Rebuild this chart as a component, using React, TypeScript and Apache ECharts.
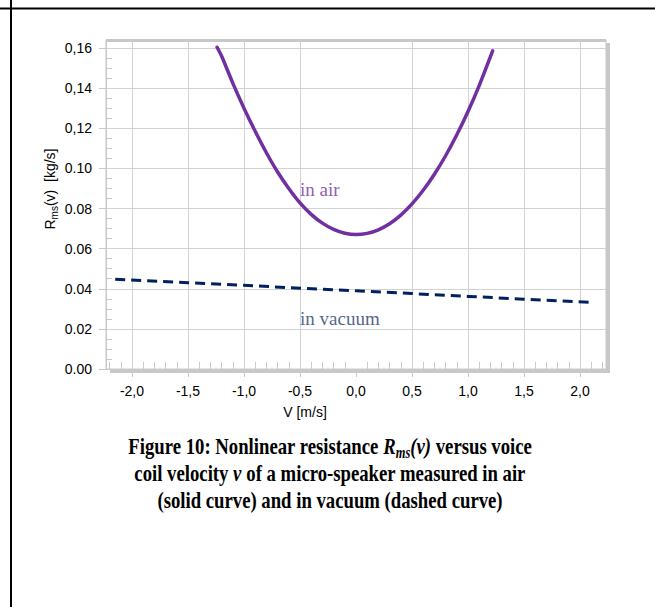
import React, { useEffect, useRef } from "react";
import * as echarts from "echarts";

// ---- data ----
const airV = [-1.24, -1.2, -1.1, -1.0, -0.9, -0.8, -0.7, -0.6, -0.5, -0.4, -0.3, -0.2, -0.1, 0.0, 0.1, 0.2, 0.3, 0.4, 0.5, 0.6, 0.7, 0.8, 0.9, 1.0, 1.1, 1.22];
const airR = [0.1604, 0.156, 0.1425, 0.13, 0.1185, 0.1078, 0.0982, 0.09, 0.0828, 0.0771, 0.0727, 0.0696, 0.0677, 0.067, 0.0676, 0.0694, 0.0724, 0.0767, 0.0823, 0.0891, 0.0971, 0.1063, 0.1168, 0.1284, 0.1413, 0.1586];

const vacV = [-2.15, -1.5, -1.0, -0.5, 0.0, 0.5, 1.0, 1.5, 2.13];
const vacR = [0.0447, 0.043, 0.0417, 0.0403, 0.039, 0.0376, 0.0362, 0.0348, 0.0331];

const xTickValues = [-2, -1.5, -1, -0.5, 0, 0.5, 1, 1.5, 2];
const xTickLabels = ["-2,0", "-1,5", "-1,0", "-0,5", "0,0", "0,5", "1,0", "1,5", "2,0"];
const xGridValues = [-2, -1.5, -1, -0.5, 0.5, 1, 1.5, 2];

const yTickValues = [0, 0.02, 0.04, 0.06, 0.08, 0.1, 0.12, 0.14, 0.16];
const yTickLabels = ["0.00", "0.02", "0.04", "0.06", "0.08", "0.10", "0,12", "0,14", "0,16"];

const annotationNames = ["in air", "in vacuum"];
const annotationV = [-0.5, -0.5];
const annotationR = [0.0893, 0.0251];

const captionLines = [
  "{b|Figure 10: Nonlinear resistance }{bi|R}{bs|ms}{bi|(v) }{b|versus voice}",
  "{b|coil velocity }{bi|v }{b|of a micro-speaker measured in air}",
  "{b|(solid curve) and in vacuum (dashed curve)}",
];

// minor tick positions (axis decoration only)
const xMinor: number[] = [];
for (let i = -22; i <= 22; i++) if (i % 5 !== 0) xMinor.push(i / 10);
const yMinor: number[] = [];
for (let i = 1; i <= 32; i++) if (i % 4 !== 0) yMinor.push(i * 0.005);

export default function App() {
  const ref = useRef<HTMLDivElement>(null);
  useEffect(() => {
    const chart = echarts.init(ref.current!, null, { renderer: "svg" });
    const G = { left: 106, top: 40, width: 500, height: 329 };
    const xMin = -2.232, xMax = 2.232, yMin = 0, yMax = 0.164;
    const frame = "#c8c8c8";
    const gridC = "#d2d2d2";
    const sans = "Liberation Sans";
    const serif = "Liberation Serif";
    const purple = "#7030a0";
    const navy = "#002060";

    const xBase = { type: "value", min: xMin, max: xMax, position: "bottom", gridIndex: 0 };
    const yBase = { type: "value", min: yMin, max: yMax, position: "left", gridIndex: 0 };
    const off = { show: false };

    const capSize = 24;
    const capRich = {
      b: { fontFamily: serif, fontWeight: "bold", fontSize: capSize, lineHeight: 28, color: "#000" },
      bi: { fontFamily: serif, fontWeight: "bold", fontStyle: "italic", fontSize: capSize, lineHeight: 28, color: "#000" },
      bs: { fontFamily: serif, fontWeight: "bold", fontStyle: "italic", fontSize: 16, lineHeight: 16, verticalAlign: "bottom", color: "#000" },
    };
    const capY = [446, 473, 500];

    chart.setOption({
      animation: false,
      backgroundColor: "#fff",
      grid: { left: G.left, top: G.top, width: G.width, height: G.height, show: true, borderColor: frame, borderWidth: 1, backgroundColor: "#fff" },
      xAxis: [
        {
          ...xBase,
          axisLine: { show: true, onZero: false, lineStyle: { color: frame, width: 1 } },
          axisTick: { show: true, customValues: xTickValues, length: 8, lineStyle: { color: frame } },
          axisLabel: {
            show: true, customValues: xTickValues, margin: 15, fontSize: 14, fontFamily: sans, color: "#000",
            formatter: (v: number) => xTickLabels[Math.round((v + 2) * 2)] ?? "",
          },
          splitLine: off,
        },
        {
          ...xBase,
          axisLine: { show: false, onZero: false },
          axisTick: { show: false, customValues: xGridValues },
          axisLabel: off,
          splitLine: { show: true, lineStyle: { color: gridC, width: 1 } },
        },
        {
          ...xBase,
          axisLine: { show: false, onZero: false },
          axisTick: { show: true, inside: true, customValues: xMinor, length: 7, lineStyle: { color: frame } },
          axisLabel: off,
          splitLine: off,
        },
      ],
      yAxis: [
        {
          ...yBase,
          axisLine: { show: true, onZero: false, lineStyle: { color: frame, width: 1 } },
          axisTick: { show: true, customValues: yTickValues, length: 7, lineStyle: { color: frame } },
          axisLabel: {
            show: true, customValues: yTickValues, margin: 14, fontSize: 14, fontFamily: sans, color: "#000",
            formatter: (v: number) => yTickLabels[Math.round(v / 0.02)] ?? "",
          },
          splitLine: { show: true, lineStyle: { color: gridC, width: 1 } },
        },
        {
          ...yBase,
          axisLine: { show: false, onZero: false },
          axisTick: { show: true, inside: true, customValues: yMinor, length: 6, lineStyle: { color: frame } },
          axisLabel: off,
          splitLine: off,
        },
      ],
      series: [
        {
          type: "line",
          name: "in air",
          xAxisIndex: 0,
          yAxisIndex: 0,
          data: airV.map((v, i) => [v, airR[i]]),
          showSymbol: false,
          smooth: 0.2,
          lineStyle: { color: purple, width: 3.5, cap: "round" },
          z: 5,
        },
        {
          type: "line",
          name: "in vacuum",
          xAxisIndex: 0,
          yAxisIndex: 0,
          data: vacV.map((v, i) => [v, vacR[i]]),
          showSymbol: false,
          lineStyle: { color: navy, width: 3, type: [10, 6] },
          z: 5,
        },
        {
          type: "scatter",
          xAxisIndex: 0,
          yAxisIndex: 0,
          symbolSize: 0,
          silent: true,
          data: annotationNames.map((n, i) => ({
            name: n,
            value: [annotationV[i], annotationR[i]],
            label: { color: i === 0 ? purple : "#1f3a6e" },
          })),
          label: {
            show: true, position: "right", distance: 0, formatter: (p: any) => p.name,
            fontFamily: serif, fontSize: 19, verticalAlign: "middle",
          },
          z: 6,
        },
      ],
      graphic: [
        { type: "line", shape: { x1: 0, y1: 8.5, x2: 655, y2: 8.5 }, style: { stroke: "#000", lineWidth: 2 }, z: 100 },
        { type: "line", shape: { x1: 11, y1: 0, x2: 11, y2: 607 }, style: { stroke: "#000", lineWidth: 2 }, z: 100 },
        { type: "rect", shape: { x: G.left, y: G.top - 1, width: G.width, height: 3 }, style: { fill: frame }, z: 50 },
        { type: "rect", shape: { x: G.left + G.width, y: G.top + 3, width: 4, height: G.height + 1 }, style: { fill: frame }, z: 50 },
        { type: "rect", shape: { x: G.left + 4, y: G.top + G.height, width: G.width, height: 4 }, style: { fill: frame }, z: 50 },
        {
          type: "text", x: 50, y: 189, rotation: Math.PI / 2, z: 60,
          style: {
            text: "{n|R}{s|ms}{n|(v)  [kg/s]}",
            textAlign: "center", textVerticalAlign: "middle",
            rich: {
              n: { fontFamily: sans, fontSize: 14, lineHeight: 18, color: "#000" },
              s: { fontFamily: sans, fontSize: 10, lineHeight: 10, verticalAlign: "bottom", color: "#000" },
            },
          },
        },
        {
          type: "text", x: 305, y: 412, z: 60,
          style: { text: "V [m/s]", fontFamily: sans, fontSize: 14, fill: "#000", textAlign: "center", textVerticalAlign: "middle" },
        },
        ...captionLines.map((t, i) => ({
          type: "text", x: 330, y: capY[i], scaleX: 0.78, z: 60,
          style: { text: t, rich: capRich, textAlign: "center", textVerticalAlign: "middle" },
        })),
      ],
    });
    return () => chart.dispose();
  }, []);
  return (
    <div
      ref={ref}
      style={{ position: "fixed", left: 0, top: 0, width: 655, height: 607, background: "#fff" }}
    />
  );
}
